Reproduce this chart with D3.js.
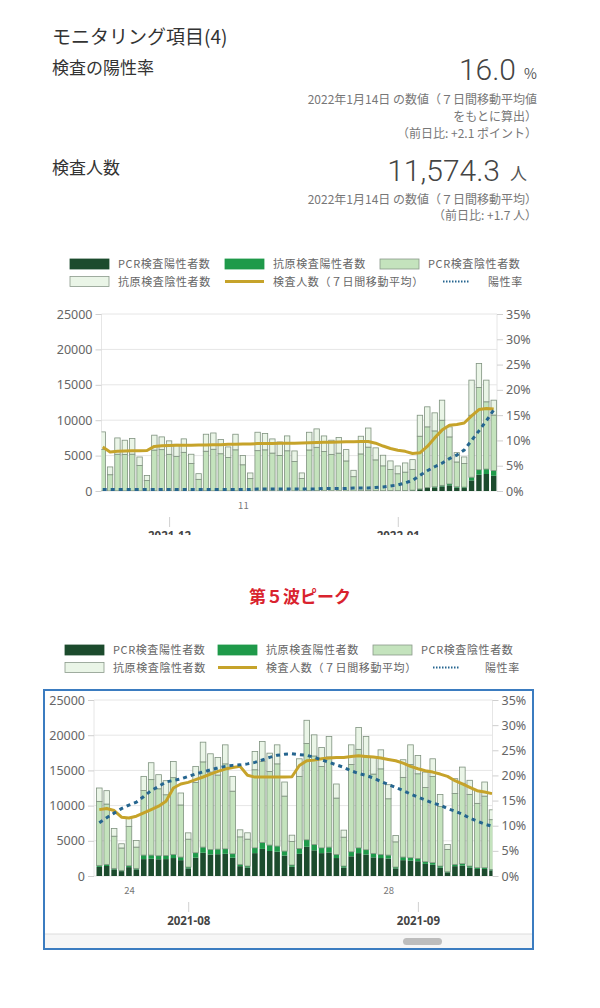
<!DOCTYPE html>
<html>
<head>
<meta charset="utf-8">
<script src="https://cdn.jsdelivr.net/npm/d3@7"></script>
<style>
  body { margin: 0; background: #fff; }
  text { font-family: "Noto Sans CJK JP", "Noto Sans", sans-serif; }
</style>
</head>
<body>
<svg id="page" width="600" height="1008"></svg>
<script>
// ---- data ----
var legendLabels = ["PCR検査陽性者数", "抗原検査陽性者数", "PCR検査陰性者数",
                    "抗原検査陰性者数", "検査人数（７日間移動平均）", "陽性率"];
var yTicks = [0, 5000, 10000, 15000, 20000, 25000];
var rateTicks = [0, 5, 10, 15, 20, 25, 30, 35];

// 2021-11-22 .. 2022-01-14
var dates1 = d3.timeDay.range(new Date(2021, 10, 22), new Date(2022, 0, 15));
var pcrPos1 = [15,8,22,18,20,12,5,21,19,17,16,20,11,6,24,22,20,14,23,12,7,25,27,22,21,26,16,9,30,34,31,29,33,22,12,38,45,36,34,40,38,52,95,250,420,500,650,800,470,420,1500,2300,2400,2150];
var agPos1 = [3,2,4,3,5,2,1,4,3,4,3,4,2,1,5,4,4,3,5,2,1,5,6,5,4,6,3,2,7,8,7,6,8,5,3,9,11,9,8,10,9,12,25,50,80,100,150,200,130,130,450,700,700,750];
var pcrNeg1 = [5830,2290,5170,5150,5180,3590,1490,5760,5820,5160,4880,5440,3880,1640,5590,5870,5240,4710,5790,3690,1740,5670,5780,5330,5000,5650,4140,1740,5760,6130,5540,5140,5310,4220,2010,5190,6140,4350,3510,3000,2390,2600,2910,7440,8560,7890,9200,6640,3500,3320,8750,11620,9500,7830];
var agNeg1 = [2500,1100,2300,2000,2200,1200,700,2100,1800,1900,1700,1900,1300,800,2400,2300,2000,1500,2200,1300,800,2600,2300,2000,1900,2100,1500,800,2500,2600,2200,2000,2200,1600,900,2500,2700,1700,1500,1200,1100,1300,1400,2960,2830,2550,2830,1420,1320,940,4960,3400,3060,2100];
var avg1 = [6200,5500,5600,5650,5700,5700,5720,6300,6380,6420,6450,6450,6460,6480,6500,6520,6550,6600,6620,6640,6650,6700,6720,6720,6740,6750,6760,6780,6820,6860,6880,6900,6920,6940,6960,6980,7000,6750,6350,6000,5750,5600,5300,5400,6300,7500,8600,9300,9400,9600,10600,11500,11650,11574];
var rate1 = [0.3,0.3,0.3,0.3,0.3,0.3,0.3,0.3,0.3,0.3,0.3,0.3,0.3,0.3,0.3,0.3,0.3,0.3,0.3,0.3,0.3,0.4,0.4,0.4,0.4,0.4,0.4,0.4,0.4,0.4,0.5,0.5,0.5,0.5,0.6,0.6,0.6,0.7,0.8,1.0,1.2,1.6,2.1,3.1,4.0,4.8,5.5,6.4,7.1,8.1,10.0,11.9,13.9,16.0];
var dayTicks1 = [new Date(2021, 11, 11)];
var monthTicks1 = [new Date(2021, 11, 1), new Date(2022, 0, 1)];

// 2021-07-20 .. 2021-09-11 (第5波ピーク)
var dates2 = d3.timeDay.range(new Date(2021, 6, 20), new Date(2021, 8, 12));
var pcrPos2 = [1300,1420,940,690,1260,940,2400,2450,2380,2400,2550,2250,1080,2600,3300,3050,3100,3150,2600,1400,1200,3250,3850,3550,3450,2900,1320,3150,4150,3650,3250,3350,2550,1200,2800,3250,3050,2650,2550,2480,1080,2250,2180,2100,1720,1600,1200,520,1400,1480,1200,1000,1000,800];
var agPos2 = [210,230,145,110,200,145,570,520,500,500,520,440,190,700,800,720,720,710,560,250,215,750,910,840,800,640,240,770,990,830,750,750,520,215,640,750,680,560,520,490,190,440,420,400,310,290,215,90,250,270,215,180,180,140];
var pcrNeg2 = [9090,8570,4570,3180,5590,3020,9180,10720,9510,8640,10900,7400,3960,9970,12110,10990,10520,12070,8890,3910,3820,11090,11540,10460,11680,7810,3340,10230,13680,12570,11550,12810,8000,4100,12390,13990,13180,11270,12150,8000,3580,11320,13230,12020,10530,12260,8450,3170,10070,11420,10180,9140,10170,7060];
var agNeg2 = [1900,1900,1100,600,1200,950,2000,2400,2000,2000,2300,1700,900,2300,2800,2600,2500,2700,2100,1000,900,2600,2800,2600,2700,2000,900,2500,3300,3000,2700,2900,2000,1000,2800,3100,2900,2500,2700,2000,900,2500,2800,2600,2200,2500,1700,700,2100,2300,2000,1800,2000,1400];
var avg2 = [9430,9580,9300,8350,8250,8490,8960,9430,9910,10610,12500,13070,13300,13680,14060,14480,14860,15190,15420,15570,14300,14050,14050,14050,14050,14050,14100,15700,16370,16460,16650,16750,16840,16840,16980,17080,16980,16890,16750,16560,16370,16040,15570,15240,14950,14760,14480,14150,13540,13070,12590,12120,11930,11700];
var rate2 = [10.6,11.6,12.5,13.4,14.1,14.7,15.8,17.0,17.8,18.7,19.0,19.3,19.8,20.3,20.7,21.1,21.5,21.8,22.0,22.1,22.3,22.6,23.1,23.6,24.0,24.2,24.3,24.1,24.0,23.6,23.1,22.6,22.1,21.6,20.9,20.4,20.0,19.5,18.8,18.2,17.6,17.0,16.3,15.7,15.1,14.5,14.1,13.4,12.9,12.3,11.5,10.9,10.3,9.9];
var dayTicks2 = [new Date(2021, 6, 24), new Date(2021, 7, 28)];
var monthTicks2 = [new Date(2021, 7, 1), new Date(2021, 8, 1)];

// ---- styles ----
var keys = ["pp", "ap", "pn", "an"];
var barColor = { pp: "#1c4b2d", ap: "#1f9a4a", pn: "#c4e3bd", an: "#eaf5e7" };
var avgColor = "#c6a32a", rateColor = "#25658f";

var svg = d3.select("#page");
var defs = svg.append("defs");

// ---- header ----
function txt(x, y, s, size, color, anchor, weight) {
  return svg.append("text").attr("x", x).attr("y", y)
    .attr("font-size", size).attr("fill", color)
    .attr("text-anchor", anchor || "start")
    .attr("font-weight", weight || 400).text(s);
}
txt(52, 44, "モニタリング項目(4)", 19, "#333");
txt(52, 74, "検査の陽性率", 17, "#333");
txt(516, 80, "16.0", 30, "#444", "end", 300).style("font-family", "Roboto, sans-serif");
txt(537, 79, "%", 14, "#555", "end");
txt(537, 104, "2022年1月14日 の数値（７日間移動平均値", 12, "#777", "end");
txt(537, 121, "をもとに算出）", 12, "#777", "end");
txt(537, 138, "（前日比: +2.1 ポイント）", 12, "#777", "end");
txt(52, 174, "検査人数", 17, "#333");
txt(500, 181, "11,574.3", 30, "#444", "end", 300).style("font-family", "Roboto, sans-serif");
txt(527, 180, "人", 17, "#555", "end");
txt(537, 204, "2022年1月14日 の数値（７日間移動平均）", 12, "#777", "end");
txt(537, 220, "（前日比: +1.7 人）", 12, "#777", "end");

// ---- legend ----
function drawLegend(x0, y0, rowGap, cols, dotX, dotTextX) {
  var g = svg.append("g");
  legendLabels.forEach(function(label, i) {
    var row = Math.floor(i / 3), cy = y0 + row * rowGap;
    var x = cols[i % 3], tx = x + 48;
    if (i < 4) {
      g.append("rect").attr("x", x).attr("y", cy - 5).attr("width", 39).attr("height", 10)
        .attr("fill", barColor[keys[i]])
        .attr("stroke", i < 2 ? barColor[keys[i]] : "#8a9a8a").attr("stroke-width", 0.8);
    } else if (i === 4) {
      g.append("line").attr("x1", x).attr("x2", x + 39).attr("y1", cy).attr("y2", cy)
        .attr("stroke", avgColor).attr("stroke-width", 3);
    } else {
      g.append("line").attr("x1", dotX).attr("x2", dotX + 26).attr("y1", cy).attr("y2", cy)
        .attr("stroke", rateColor).attr("stroke-width", 2).attr("stroke-dasharray", "1.5,1.5");
      tx = dotTextX;
    }
    g.append("text").attr("x", tx).attr("y", cy + 4).attr("font-size", 11)
      .attr("letter-spacing", 0.6).attr("fill", "#666").text(label);
  });
}

// ---- chart ----
function drawChart(c) {
  var g = svg.append("g");
  if (c.clipBottom) {
    defs.append("clipPath").attr("id", c.id + "-all").append("rect")
      .attr("x", 0).attr("y", c.top - 20).attr("width", 600).attr("height", c.clipBottom - c.top + 20);
    g.attr("clip-path", "url(#" + c.id + "-all)");
  }
  var n = c.dates.length;
  var x = d3.scaleTime().domain([c.dates[0], c.dates[n - 1]]).range([c.x0, c.x1]);
  var y = d3.scaleLinear().domain([0, 25000]).range([c.bottom, c.top]);
  var yr = d3.scaleLinear().domain([0, 35]).range([c.bottom, c.top]);

  // grid
  g.append("g").selectAll("line").data(yTicks).enter().append("line")
    .attr("x1", c.left).attr("x2", c.right)
    .attr("y1", function(d) { return y(d); }).attr("y2", function(d) { return y(d); })
    .attr("stroke", "#e6e6e6");
  g.append("line").attr("x1", c.left).attr("x2", c.left).attr("y1", c.top).attr("y2", c.bottom).attr("stroke", "#e6e6e6");
  g.append("line").attr("x1", c.right).attr("x2", c.right).attr("y1", c.top).attr("y2", c.bottom).attr("stroke", "#e6e6e6");

  var yl = g.append("g").attr("transform", "translate(" + c.left + ",0)")
    .call(d3.axisLeft(y).tickValues(yTicks).tickSize(6).tickPadding(3).tickFormat(d3.format("d")));
  var yra = g.append("g").attr("transform", "translate(" + c.right + ",0)")
    .call(d3.axisRight(yr).tickValues(rateTicks).tickSize(6).tickPadding(3).tickFormat(function(d) { return d + "%"; }));
  [yl, yra].forEach(function(a) {
    a.select(".domain").remove();
    a.selectAll(".tick line").attr("stroke", "#cfcfcf");
    a.selectAll(".tick text").attr("fill", "#666").attr("font-size", 12.5)
      .style("font-family", "'Noto Sans', sans-serif");
  });

  // x axes: day labels and month ticks
  var xd = g.append("g").attr("transform", "translate(0," + c.bottom + ")")
    .call(d3.axisBottom(x).tickValues(c.dayTicks).tickSize(0).tickPadding(11).tickFormat(d3.timeFormat("%-d")));
  xd.select(".domain").remove();
  xd.selectAll("text").attr("fill", "#777").attr("font-size", 9.5);
  var xm = g.append("g").attr("transform", "translate(0," + (c.bottom + 26) + ")")
    .call(d3.axisBottom(x).tickValues(c.monthTicks).tickSize(10).tickPadding(5).tickFormat(d3.timeFormat("%Y-%m")));
  xm.select(".domain").remove();
  xm.selectAll(".tick line").attr("stroke", "#d0d0d0");
  xm.selectAll("text").attr("fill", "#444").attr("font-size", 11.5).attr("font-weight", 700)
    .style("font-family", "'Noto Sans', sans-serif");

  // plot area
  defs.append("clipPath").attr("id", c.id).append("rect")
    .attr("x", c.left).attr("y", c.top - 10).attr("width", c.right - c.left).attr("height", c.bottom - c.top + 10);
  var plot = g.append("g").attr("clip-path", "url(#" + c.id + ")");

  var rows = c.dates.map(function(d, i) {
    return { date: d, pp: c.pp[i], ap: c.ap[i], pn: c.pn[i], an: c.an[i], avg: c.avg[i], rate: c.rate[i] };
  });
  var series = d3.stack().keys(keys)(rows);
  plot.selectAll("g.layer").data(series).enter().append("g").attr("class", "layer")
    .attr("fill", function(s) { return barColor[s.key]; })
    .attr("stroke", function(s) { return s.key === "pn" || s.key === "an" ? "#7f927f" : "none"; })
    .attr("stroke-width", 0.8)
    .selectAll("rect").data(function(s) { return s; }).enter().append("rect")
      .attr("x", function(d) { return x(d.data.date) - c.barW / 2; })
      .attr("width", c.barW)
      .attr("y", function(d) { return y(d[1]); })
      .attr("height", function(d) { return y(d[0]) - y(d[1]); });

  plot.append("path").datum(rows)
    .attr("fill", "none").attr("stroke", avgColor).attr("stroke-width", 3)
    .attr("stroke-linejoin", "round")
    .attr("d", d3.line().x(function(d) { return x(d.date); }).y(function(d) { return y(d.avg); }));
  plot.append("path").datum(rows)
    .attr("fill", "none").attr("stroke", rateColor).attr("stroke-width", 3)
    .attr("stroke-dasharray", "4,4")
    .attr("d", d3.line().x(function(d) { return x(d.date); }).y(function(d) { return yr(d.rate); }));
}

drawLegend(70, 264, 17.5, [70, 225, 380], 443, 488);
drawChart({ id: "c1", dates: dates1, pp: pcrPos1, ap: agPos1, pn: pcrNeg1, an: agNeg1,
  avg: avg1, rate: rate1, dayTicks: dayTicks1, monthTicks: monthTicks1,
  left: 101.5, right: 497, top: 314, bottom: 491, x0: 102.7, x1: 493.7, barW: 5.4, clipBottom: 535 });

// second chart: title, legend, framed box
txt(300, 603, "第５波ピーク", 17, "#d9232e", "middle", 700);
drawLegend(65, 650, 17.5, [65, 218, 373], 433, 485);

svg.append("rect").attr("x", 45).attr("y", 934).attr("width", 487).attr("height", 15).attr("fill", "#f6f6f6");
svg.append("line").attr("x1", 45).attr("x2", 532).attr("y1", 934).attr("y2", 934).attr("stroke", "#dcdcdc");
svg.append("rect").attr("x", 403).attr("y", 938).attr("width", 39).attr("height", 7).attr("rx", 3.5).attr("fill", "#bdbdbd");

drawChart({ id: "c2", dates: dates2, pp: pcrPos2, ap: agPos2, pn: pcrNeg2, an: agNeg2,
  avg: avg2, rate: rate2, dayTicks: dayTicks2, monthTicks: monthTicks2,
  left: 94, right: 492.5, top: 700, bottom: 876, x0: 99.3, x1: 492, barW: 5.6 });

svg.append("rect").attr("x", 44).attr("y", 690).attr("width", 489).attr("height", 259)
  .attr("fill", "none").attr("stroke", "#3b7cc0").attr("stroke-width", 2);
</script>
</body>
</html>
